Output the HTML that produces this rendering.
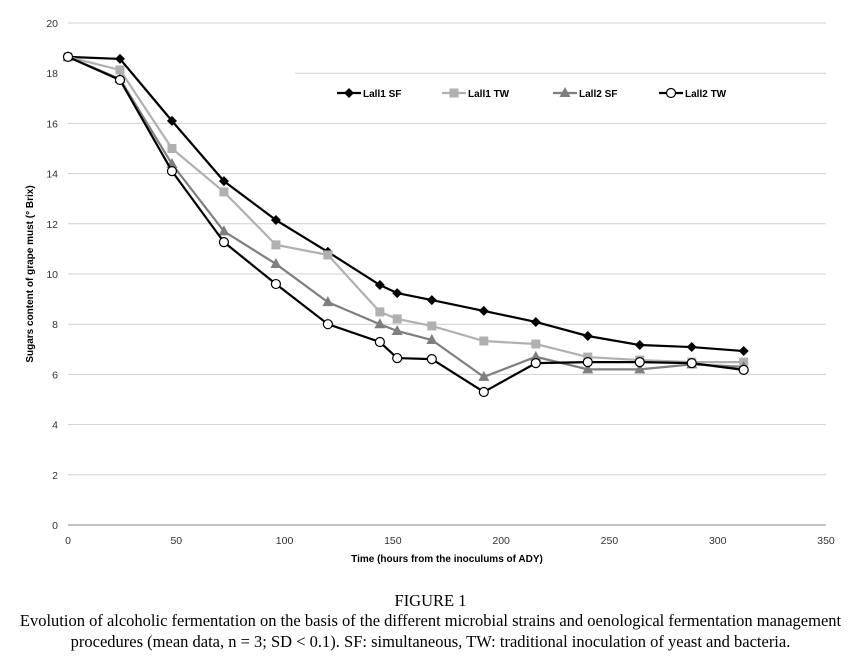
<!DOCTYPE html>
<html><head><meta charset="utf-8"><style>
body{margin:0;background:#fff;width:861px;height:664px;overflow:hidden}
svg text{font-family:"Liberation Sans",sans-serif}
.cap{position:absolute;left:0;width:861px;text-align:center;font-family:"Liberation Serif",serif;font-size:16.5px;color:#000;white-space:nowrap}
</style></head><body>
<svg id="chart" width="861" height="600" style="position:absolute;left:0;top:0"></svg>
<div class="cap" style="top:591px">FIGURE 1</div>
<div class="cap" style="top:610px;line-height:21px">Evolution of alcoholic fermentation on the basis of the different microbial strains and oenological fermentation management<br>procedures (mean data, n = 3; SD &lt; 0.1). SF: simultaneous, TW: traditional inoculation of yeast and bacteria.</div>
<script>
const hours=[0,24,48,72,96,120,144,152,168,192,216,240,264,288,312];
const lall1SF=[18.65,18.57,16.1,13.7,12.15,10.88,9.56,9.24,8.96,8.53,8.09,7.53,7.17,7.09,6.93];
const lall1TW=[18.65,18.13,15.0,13.27,11.16,10.76,8.49,8.21,7.93,7.33,7.21,6.69,6.57,6.49,6.49];
const lall2SF=[18.65,17.77,14.38,11.7,10.4,8.88,8.0,7.73,7.37,5.9,6.7,6.2,6.2,6.4,6.3];
const lall2TW=[18.65,17.73,14.1,11.27,9.6,8.0,7.29,6.65,6.61,5.3,6.45,6.49,6.49,6.45,6.18];
const xTicks=[0,50,100,150,200,250,300,350];
const yTicks=[0,2,4,6,8,10,12,14,16,18,20];
const NS='http://www.w3.org/2000/svg';
const svg=document.getElementById('chart');
const X=v=>68+v*(758/350), Y=v=>525-v*(502/20);
function mk(t,a,p){const e=document.createElementNS(NS,t);for(const k in a)e.setAttribute(k,a[k]);(p||svg).appendChild(e);return e;}
yTicks.forEach(t=>{
 const g=mk('line',{x1:t===18?295:68,x2:826,y1:Y(t),y2:Y(t),stroke:t===0?'#888':'#d0d0d0','stroke-width':1});
 
 
 const l=mk('text',{x:58,y:Y(t)+4,'text-anchor':'end','font-size':10.5,fill:'#333'});l.textContent=t;
 
 
});
xTicks.forEach(t=>{
 const l=mk('text',{x:X(t),y:544,'text-anchor':'middle','font-size':10.5,fill:'#333'});l.textContent=t;
 
 
});
const xt=mk('text',{x:447,y:562,'text-anchor':'middle','font-size':10,'font-weight':'bold',fill:'#000'});xt.textContent='Time (hours from the inoculums of ADY)';


const yt=mk('text',{x:0,y:0,'text-anchor':'middle','font-size':10,'font-weight':'bold',fill:'#000',transform:'translate(33,274) rotate(-90)'});yt.textContent='Sugars content of grape must (° Brix)';


function marker(type,cx,cy,col,p){
 if(type==='diamond')return mk('polygon',{points:`${cx},${cy-5} ${cx+5},${cy} ${cx},${cy+5} ${cx-5},${cy}`,fill:col},p);
 if(type==='square')return mk('rect',{x:cx-4.5,y:cy-4.5,width:9,height:9,fill:col},p);
 if(type==='tri')return mk('polygon',{points:`${cx},${cy-6} ${cx+5.5},${cy+4} ${cx-5.5},${cy+4}`,fill:col},p);
 return mk('circle',{cx:cx,cy:cy,r:4.5,fill:'#fff',stroke:'#000','stroke-width':1.2},p);
}
const series=[['Lall1 SF',lall1SF,'#000','diamond',337],['Lall1 TW',lall1TW,'#b0b0b0','square',442],['Lall2 SF',lall2SF,'#7f7f7f','tri',553],['Lall2 TW',lall2TW,'#000','circle',659]];
series.forEach(([name,vals,col,m,lx])=>{
 const g=mk('g',{});
 
 
 mk('polyline',{points:vals.map((v,i)=>X(hours[i])+','+Y(v)).join(' '),fill:'none',stroke:col,'stroke-width':2.2},g);
 vals.forEach((v,i)=>{const p=marker(m,X(hours[i]),Y(v),col,g);
  
  });
 const lg=mk('g',{});
 
 
 mk('line',{x1:lx,x2:lx+24,y1:93,y2:93,stroke:col,'stroke-width':2.2},lg);
 marker(m,lx+12,93,col,lg);
 const t=mk('text',{x:lx+26,y:97,'font-size':10,'font-weight':'bold',fill:'#000'},lg);t.textContent=name;
});
</script>
</body></html>
